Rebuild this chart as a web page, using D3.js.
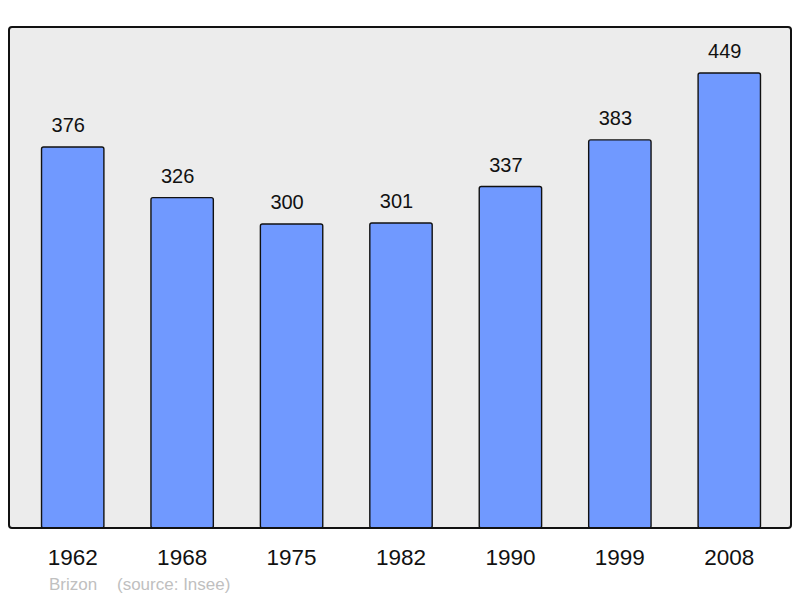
<!DOCTYPE html>
<html>
<head>
<meta charset="utf-8">
<script src="https://cdn.jsdelivr.net/npm/d3@7"></script>
<style>
  body { margin: 0; background: #fff; }
  text { font-family: "Liberation Sans", Arial, sans-serif; }
</style>
</head>
<body>
<div id="chart"></div>
<script>
const years = ["1962", "1968", "1975", "1982", "1990", "1999", "2008"];
const population = [376, 326, 300, 301, 337, 383, 449];
const commune = "Brizon";
const source = "(source: Insee)";

const W = 800, H = 598;
const frame = { left: 9, top: 27, right: 791, bottom: 528 };

const svg = d3.select("#chart").append("svg")
    .attr("width", W)
    .attr("height", H);

// plot background
svg.append("rect")
    .attr("x", frame.left)
    .attr("y", frame.top)
    .attr("width", frame.right - frame.left)
    .attr("height", frame.bottom - frame.top)
    .attr("rx", 3)
    .attr("fill", "#ececec");

const x = d3.scaleBand()
    .domain(years)
    .range([18, 784])
    .paddingInner(0.43)
    .paddingOuter(0.215);

const y = d3.scaleLinear()
    .domain([0, 500])
    .range([frame.bottom, 21.35]);

const data = years.map((yr, i) => ({ year: yr, value: population[i] }));

// bars
svg.append("g")
    .selectAll("rect")
    .data(data)
    .join("rect")
    .attr("x", d => x(d.year))
    .attr("y", d => y(d.value))
    .attr("width", x.bandwidth())
    .attr("height", d => y(0) - y(d.value))
    .attr("rx", 2)
    .attr("fill", "#7099ff")
    .attr("stroke", "#111")
    .attr("stroke-width", 1.4);

// value labels (sit a little left of bar centre)
svg.append("g")
    .selectAll("text")
    .data(data)
    .join("text")
    .attr("x", d => x(d.year) + x.bandwidth() / 2 - 4.5)
    .attr("y", d => y(d.value) - 15)
    .attr("text-anchor", "middle")
    .attr("font-size", "20px")
    .attr("fill", "#111")
    .text(d => d.value);

// frame border on top
svg.append("rect")
    .attr("x", frame.left)
    .attr("y", frame.top)
    .attr("width", frame.right - frame.left)
    .attr("height", frame.bottom - frame.top)
    .attr("rx", 3)
    .attr("fill", "none")
    .attr("stroke", "#111")
    .attr("stroke-width", 2);

// x axis labels
const xAxis = svg.append("g")
    .attr("transform", `translate(0, ${frame.bottom})`)
    .call(d3.axisBottom(x).tickSize(0).tickPadding(0));
xAxis.select(".domain").remove();
xAxis.selectAll("text")
    .attr("y", 37)
    .attr("dy", 0)
    .attr("font-size", "22.5px")
    .attr("font-family", "Liberation Sans, Arial, sans-serif")
    .attr("fill", "#111");

// caption
svg.append("text")
    .attr("x", 49)
    .attr("y", 590)
    .attr("font-size", "17px")
    .attr("fill", "#c0c0c0")
    .text(commune);
svg.append("text")
    .attr("x", 117)
    .attr("y", 590)
    .attr("font-size", "17px")
    .attr("fill", "#c0c0c0")
    .text(source);
</script>
</body>
</html>
